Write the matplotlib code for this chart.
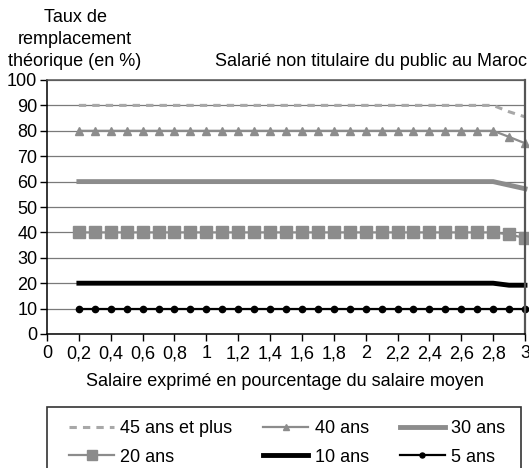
import numpy as np
import matplotlib.pyplot as plt
from matplotlib.patches import Rectangle

plt.rcParams['font.family'] = ['Liberation Sans', 'DejaVu Sans']

# salaire en multiple du salaire moyen
salaire = [0.2, 0.3, 0.4, 0.5, 0.6, 0.7, 0.8, 0.9, 1.0, 1.1, 1.2, 1.3, 1.4, 1.5,
           1.6, 1.7, 1.8, 1.9, 2.0, 2.1, 2.2, 2.3, 2.4, 2.5, 2.6, 2.7, 2.8, 2.9, 3.0]

taux_45 = [90] * 27 + [87.5, 85.5]
taux_40 = [80] * 27 + [77.6, 75.1]
taux_30 = [60] * 27 + [58.6, 57.2]
taux_20 = [40] * 27 + [39.2, 37.8]
taux_10 = [20] * 27 + [19.2, 19.2]
taux_5 = [10] * 29

xticks = [0, 0.2, 0.4, 0.6, 0.8, 1, 1.2, 1.4, 1.6, 1.8, 2, 2.2, 2.4, 2.6, 2.8, 3]
xlabels = ["0", "0,2", "0,4", "0,6", "0,8", "1", "1,2", "1,4", "1,6", "1,8", "2",
           "2,2", "2,4", "2,6", "2,8", "3"]

gris = '#8c8c8c'
fs = 13

fig = plt.figure(figsize=(5.29, 4.68), dpi=100)
ax = fig.add_axes([47 / 529, 1 - 334 / 468, (525 - 47) / 529, (334 - 80) / 468])

ax.set_ylim(0, 100)
ax.set_xlim(0, 3)
ax.set_yticks(range(0, 101, 10))
ax.grid(axis='y', color='#7a7a7a', linewidth=0.9)
ax.set_axisbelow(True)

l45, = ax.plot(salaire, taux_45, color='#a8a8a8', linewidth=2.2, linestyle=(0, (2.4, 2.0)),
               label='45 ans et plus', clip_on=False)
l40, = ax.plot(salaire, taux_40, color=gris, linewidth=1.6, marker='^', markersize=5.5,
               label='40 ans', clip_on=False)
l30, = ax.plot(salaire, taux_30, color=gris, linewidth=3.5, label='30 ans', clip_on=False)
l20, = ax.plot(salaire, taux_20, color=gris, linewidth=1.6, marker='s', markersize=8.5,
               label='20 ans', clip_on=False)
l10, = ax.plot(salaire, taux_10, color='black', linewidth=3.5, label='10 ans', clip_on=False)
l5, = ax.plot(salaire, taux_5, color='black', linewidth=1.6, marker='o', markersize=4.5,
              label='5 ans', clip_on=False)

ax.set_xticks(xticks)
ax.set_xticklabels(xlabels)
ax.tick_params(axis='both', labelsize=fs, length=5, width=1, direction='out')
ax.tick_params(axis='y', pad=2)
ax.tick_params(axis='x', pad=3)

ax.spines['left'].set_color('black')
ax.spines['bottom'].set_color('black')
ax.spines['top'].set_color('#555555')
ax.spines['right'].set_color('#555555')
ax.spines['right'].set_linewidth(1.6)
for s in ['left', 'bottom', 'top']:
    ax.spines[s].set_linewidth(1.1)

fig.text(75 / 529, 1 - 9 / 468, "Taux de\nremplacement\nthéorique (en %)", ha='center', va='top',
         fontsize=fs, linespacing=1.38)
fig.text(527 / 529, 1 - 62 / 468, "Salarié non titulaire du public au Maroc", ha='right',
         va='center', fontsize=fs)
fig.text(285 / 529, 1 - 382 / 468, "Salaire exprimé en pourcentage du salaire moyen", ha='center',
         va='center', fontsize=fs)

# cadre de la légende (coupé en bas)
fig.patches.append(Rectangle((47 / 529, -0.05), (521 - 47) / 529, 0.05 + (468 - 407) / 468,
                             transform=fig.transFigure, fill=False, edgecolor='#333333',
                             linewidth=1.2))

handles = [l45, l20, l40, l10, l30, l5]
fig.legend(handles, [h.get_label() for h in handles], ncol=3, frameon=False,
           loc='upper left', bbox_to_anchor=(69 / 529, 1 - 420 / 468), fontsize=fs,
           borderaxespad=0, borderpad=0,
           handlelength=2.5, handletextpad=0.35, columnspacing=1.7, labelspacing=0.65,
           markerscale=0.8)

fig.savefig('out.png', dpi=100)
